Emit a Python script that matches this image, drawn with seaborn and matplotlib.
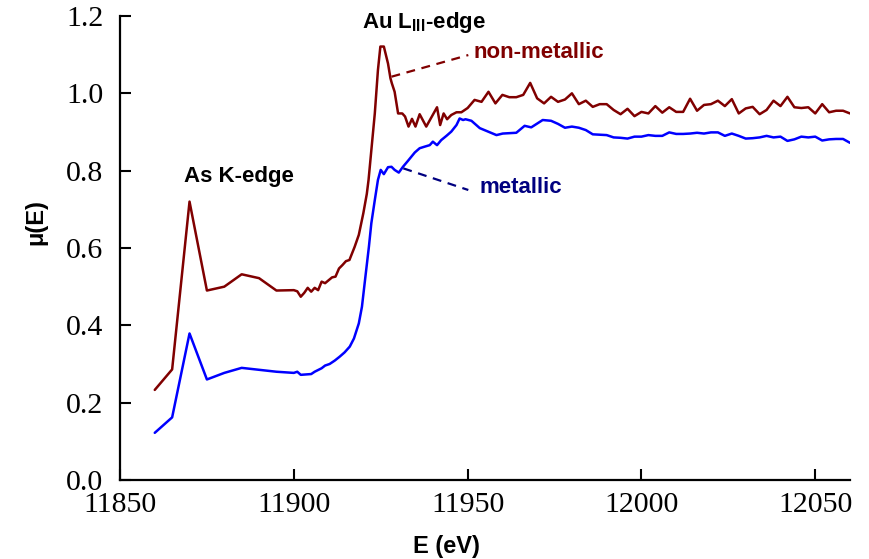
import matplotlib
matplotlib.use("Agg")
import matplotlib.pyplot as plt
import seaborn as sns
import pandas as pd

# ---- data ----
E_nonmetal = [11860, 11865, 11870, 11875, 11880, 11885, 11890, 11895, 11900,
              11901, 11902, 11903, 11904, 11905, 11906, 11907, 11908, 11909,
              11911, 11912, 11913, 11914, 11915, 11916, 11917.5, 11918.7,
              11920, 11921, 11921.5, 11923.3, 11924.2, 11924.9, 11925.9,
              11927.1, 11927.8, 11928.2, 11929, 11930, 11931.2, 11932, 11933,
              11934, 11935, 11936.2, 11938.1, 11941.2, 11942.1, 11943.1,
              11944.1, 11945.3, 11946.8, 11948.2, 11950, 11952, 11954, 11956,
              11958, 11960, 11962, 11964, 11966, 11968, 11970, 11972, 11974,
              11976, 11978, 11980, 11982, 11984, 11986, 11988, 11990, 11992,
              11994, 11996, 11998, 12000, 12002, 12004, 12006, 12008, 12010,
              12012, 12014, 12016, 12018, 12020, 12022, 12024, 12026, 12028,
              12030, 12032, 12034, 12036, 12038, 12040, 12042, 12044, 12046,
              12048, 12050, 12052, 12054, 12056, 12058, 12060]
mu_nonmetal = [0.233, 0.286, 0.720, 0.490, 0.500, 0.532, 0.522, 0.490, 0.491,
               0.488, 0.474, 0.484, 0.497, 0.487, 0.497, 0.491, 0.513, 0.509,
               0.524, 0.526, 0.547, 0.556, 0.566, 0.569, 0.603, 0.634,
               0.690, 0.740, 0.776, 0.948, 1.060, 1.121, 1.121,
               1.077, 1.039, 1.026, 1.004, 0.948, 0.948, 0.940, 0.914,
               0.934, 0.914, 0.946, 0.914, 0.964, 0.918, 0.948,
               0.933, 0.944, 0.951, 0.951, 0.962, 0.983, 0.978, 1.004,
               0.974, 0.996, 0.990, 0.990, 0.996, 1.027, 0.987, 0.974, 0.991,
               0.978, 0.984, 1.000, 0.972, 0.981, 0.965, 0.972, 0.972, 0.957,
               0.946, 0.960, 0.941, 0.952, 0.948, 0.967, 0.950, 0.964, 0.952,
               0.952, 0.986, 0.955, 0.970, 0.972, 0.981, 0.967, 0.985, 0.948,
               0.961, 0.965, 0.946, 0.957, 0.981, 0.967, 0.991, 0.964, 0.962,
               0.964, 0.948, 0.972, 0.951, 0.955, 0.955, 0.948]

E_metal = [11860, 11865, 11870, 11875, 11880, 11885, 11890, 11895, 11900,
           11901, 11902, 11905, 11906, 11908, 11909, 11910.3, 11911.8,
           11913.2, 11914.6, 11916.1, 11917.3, 11918.7, 11919.6, 11920.6,
           11921.6, 11922.3, 11923.3, 11924.2, 11925, 11925.9, 11927.1,
           11928.1, 11929, 11930.2, 11931.4, 11932.8, 11934.8, 11936.2,
           11937.6, 11939.1, 11940, 11941.2, 11942.4, 11943.9, 11945.3,
           11946.8, 11947.7, 11948.7, 11949.4, 11951.1, 11953.5, 11955.9,
           11958.3, 11960.1, 11964, 11966.4, 11968.3, 11971.6, 11974,
           11976, 11978, 11980, 11982, 11984, 11986, 11988, 11990, 11992,
           11994, 11996, 11998, 12000, 12002, 12004, 12006, 12008, 12010,
           12012, 12014, 12016, 12018, 12020, 12022, 12024, 12026, 12028,
           12030, 12032, 12034, 12036, 12038, 12040, 12042, 12044, 12046,
           12048, 12050, 12052, 12054, 12056, 12058, 12060]
mu_metal = [0.122, 0.162, 0.379, 0.260, 0.277, 0.290, 0.285, 0.280, 0.277,
            0.280, 0.272, 0.274, 0.280, 0.289, 0.296, 0.300, 0.309,
            0.319, 0.330, 0.345, 0.366, 0.405, 0.448, 0.526,
            0.603, 0.664, 0.724, 0.776, 0.802, 0.791, 0.809,
            0.810, 0.802, 0.795, 0.810, 0.825, 0.847, 0.858,
            0.862, 0.866, 0.875, 0.866, 0.879, 0.890, 0.901,
            0.918, 0.935, 0.931, 0.933, 0.929, 0.910, 0.901,
            0.892, 0.896, 0.898, 0.916, 0.912, 0.931, 0.929,
            0.921, 0.911, 0.914, 0.911, 0.905, 0.894, 0.893, 0.892, 0.886,
            0.885, 0.883, 0.888, 0.888, 0.892, 0.890, 0.890, 0.899, 0.895,
            0.895, 0.896, 0.898, 0.896, 0.899, 0.899, 0.890, 0.896, 0.890,
            0.883, 0.884, 0.886, 0.890, 0.886, 0.888, 0.877, 0.881, 0.888,
            0.886, 0.888, 0.878, 0.881, 0.882, 0.882, 0.872]

x_ticks = [11850, 11900, 11950, 12000, 12050]
y_ticks = [0.0, 0.2, 0.4, 0.6, 0.8, 1.0, 1.2]

RED = "#800000"
BLUE = "#0000ff"
NAVY = "#000080"

sns.set_style("ticks")
plt.rcParams["font.family"] = ["Liberation Sans", "DejaVu Sans"]
plt.rcParams["text.color"] = "black"
plt.rcParams["axes.labelcolor"] = "black"
plt.rcParams["mathtext.fontset"] = "custom"
plt.rcParams["mathtext.rm"] = "Liberation Sans:bold"
plt.rcParams["mathtext.it"] = "Liberation Sans:bold"
plt.rcParams["mathtext.bf"] = "Liberation Sans:bold"

fig = plt.figure(figsize=(8.69, 5.59), dpi=100)
ax = fig.add_axes([120 / 869, 1 - 480 / 559, 730 / 869, 464 / 559])

df_n = pd.DataFrame({"E": E_nonmetal, "mu": mu_nonmetal})
df_m = pd.DataFrame({"E": E_metal, "mu": mu_metal})
sns.lineplot(data=df_n, x="E", y="mu", ax=ax, color=RED, lw=1.8,
             estimator=None, sort=False)
sns.lineplot(data=df_m, x="E", y="mu", ax=ax, color=BLUE, lw=1.8,
             estimator=None, sort=False)

ax.set_xlim(11850, 12060)
ax.set_ylim(0, 1.2)
ax.set_xticks(x_ticks)
ax.set_yticks(y_ticks)
ax.set_xticklabels([str(t) for t in x_ticks])
ax.set_yticklabels([f"{t:.1f}" for t in y_ticks])
for lab in ax.get_xticklabels() + ax.get_yticklabels():
    lab.set_fontfamily("Liberation Serif")
    lab.set_fontsize(21.5)
    lab.set_color("black")
ax.tick_params(direction="in", length=8, width=1.5, colors="black")
ax.tick_params(axis="y", pad=12)
ax.tick_params(axis="x", pad=9)
sns.despine(ax=ax)
for s in ("left", "bottom"):
    ax.spines[s].set_linewidth(1.6)
    ax.spines[s].set_color("black")

ax.set_xlabel("E (eV)", fontsize=17, fontweight="bold", color="black")
ax.set_ylabel("μ(E)", fontsize=17, fontweight="bold", color="black")
ax.xaxis.set_label_coords(0.447, -0.118)
ax.yaxis.set_label_coords(-0.10, 0.556)

# annotations
ax.text(11884.2, 0.784, "As K-edge", ha="center", va="center",
        fontsize=16, fontweight="bold", color="black")
ax.text(11919.5, 1.169, r"Au L$_{\mathrm{III}}$-edge", ha="left", va="baseline",
        fontsize=16, fontweight="bold", color="black")
ax.text(11951.6, 1.091, "non-metallic", ha="left", va="baseline",
        fontsize=16, fontweight="bold", color=RED)
ax.text(11953.3, 0.742, "metallic", ha="left", va="baseline",
        fontsize=16, fontweight="bold", color=NAVY)
ax.plot([11928.1, 11950.2], [1.043, 1.099], color=RED, lw=1.6,
        ls=(0, (4, 3)))
ax.plot([11931.5, 11950.2], [0.806, 0.750], color=NAVY, lw=1.6,
        ls=(0, (4, 3)))

fig.savefig("out.png", dpi=100)
